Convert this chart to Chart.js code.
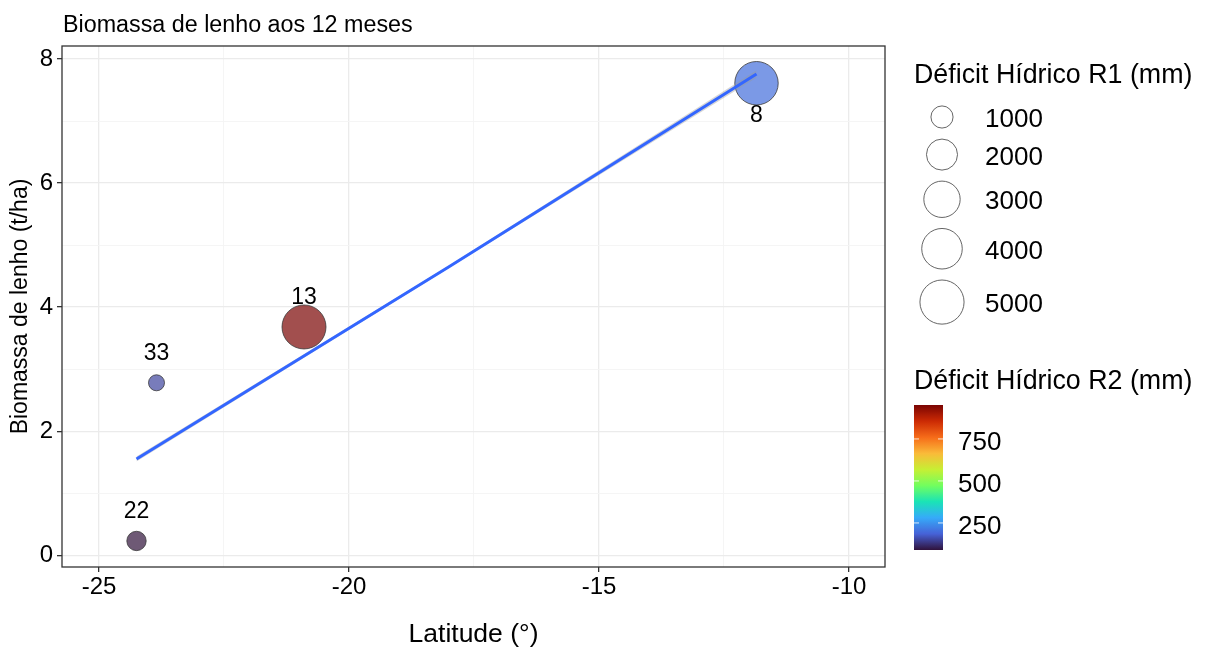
<!DOCTYPE html>
<html>
<head>
<meta charset="utf-8">
<script src="https://cdn.jsdelivr.net/npm/chart.js@4.4.1/dist/chart.umd.min.js"></script>
<style>
  html, body { margin: 0; padding: 0; background: #fff; }
  #wrap { width: 1205px; height: 648px; }
</style>
</head>
<body>
<div id="wrap"><canvas id="chart" width="1205" height="648"></canvas></div>
<script>
// sites (point labels) and their values
const SITE_LABELS = ['22', '33', '13', '8'];
const LATITUDE = [-24.25, -23.85, -20.90, -11.85];
const BIOMASS = [0.23, 2.78, 3.68, 7.61];
const DEFICIT_R1 = [860, 800, 4960, 4790];
const DEFICIT_R2 = [89, 150, 952, 200];

// linear fit (geom_smooth lm) and its band
const FIT_LAT = [-24.25, -18.0, -11.85];
const FIT_Y = [1.55, 4.65, 7.76];
const FIT_LOWER = [1.51, 4.63, 7.70];
const FIT_UPPER = [1.59, 4.67, 7.82];

const R1_BREAKS = [1000, 2000, 3000, 4000, 5000];
const R2_BREAKS = [250, 500, 750];
const R2_LIMITS = [89, 952];

// turbo palette stops (viridisLite::turbo(10))
const TURBO = ['#30123B', '#4662D7', '#36AAF9', '#1AE4B6', '#72FE5E',
               '#C7EF34', '#FABA39', '#F66B19', '#CB2A04', '#7A0403'];

const FAMILY = "'Liberation Sans', Arial, sans-serif";
Chart.defaults.font.family = FAMILY;

function hexRgb(hex) {
    const n = parseInt(hex.slice(1), 16);
    return [(n >> 16) & 255, (n >> 8) & 255, n & 255];
}

function turbo(t) {
    const x = Math.min(1, Math.max(0, t)) * (TURBO.length - 1);
    const i = Math.min(Math.floor(x), TURBO.length - 2);
    const f = x - i;
    const a = hexRgb(TURBO[i]);
    const b = hexRgb(TURBO[i + 1]);
    return a.map((v, k) => Math.round(v + (b[k] - v) * f));
}

function colorFor(value, alpha) {
    const t = (value - R2_LIMITS[0]) / (R2_LIMITS[1] - R2_LIMITS[0]);
    const [r, g, b] = turbo(t);
    return `rgba(${r}, ${g}, ${b}, ${alpha})`;
}

function sizeFor(value) {
    return 8 + 0.217 * Math.sqrt(Math.max(value - 800, 0));
}

const isMajorX = v => Math.abs(v % 5) < 1e-6;
const isMajorY = v => Math.abs(v % 2) < 1e-6;

const decor = {
    id: 'decor',
    beforeDraw(chart) {
        const c = chart.ctx;
        c.save();
        c.fillStyle = '#fff';
        c.fillRect(0, 0, chart.width, chart.height);
        c.restore();
    },
    afterDraw(chart) {
        const c = chart.ctx;
        const area = chart.chartArea;
        const xs = chart.scales.x;
        const ys = chart.scales.y;
        c.save();

        // panel border
        c.strokeStyle = '#333';
        c.lineWidth = 1.3;
        c.strokeRect(area.left, area.top, area.right - area.left, area.bottom - area.top);

        // title
        c.fillStyle = '#000';
        c.font = `23.3px ${FAMILY}`;
        c.textAlign = 'left';
        c.textBaseline = 'alphabetic';
        c.fillText('Biomassa de lenho aos 12 meses', 63, 32);

        // point labels
        c.font = `23px ${FAMILY}`;
        c.textAlign = 'center';
        SITE_LABELS.forEach((label, i) => {
            const nudge = BIOMASS[i] > 7 ? -0.5 : 0.5;
            const px = xs.getPixelForValue(LATITUDE[i]);
            const py = ys.getPixelForValue(BIOMASS[i] + nudge);
            c.fillText(label, px, py + 8);
        });

        // size legend
        c.textAlign = 'left';
        c.font = `26.8px ${FAMILY}`;
        c.fillText('Déficit Hídrico R1 (mm)', 914, 83);
        c.font = `26px ${FAMILY}`;
        let y = 117;
        let prevH = 0;
        R1_BREAKS.forEach((v, i) => {
            const r = sizeFor(v);
            const h = 2 * r + 11;
            if (i > 0) y += (prevH + h) / 2;
            c.beginPath();
            c.arc(942, y, r, 0, Math.PI * 2);
            c.strokeStyle = '#555';
            c.lineWidth = 0.9;
            c.stroke();
            c.fillStyle = '#000';
            c.fillText(String(v), 985, y + 10);
            prevH = h;
        });

        // colour bar legend
        c.font = `26.8px ${FAMILY}`;
        c.fillText('Déficit Hídrico R2 (mm)', 914, 389);
        c.font = `26px ${FAMILY}`;
        const barTop = 405, barBottom = 550, barLeft = 914, barRight = 943;
        const grad = c.createLinearGradient(0, barBottom, 0, barTop);
        for (let k = 0; k <= 45; k++) {
            const [r, g, b] = turbo(k / 45);
            grad.addColorStop(k / 45, `rgb(${r}, ${g}, ${b})`);
        }
        c.fillStyle = grad;
        c.fillRect(barLeft, barTop, barRight - barLeft, barBottom - barTop);
        R2_BREAKS.forEach(v => {
            const t = (v - R2_LIMITS[0]) / (R2_LIMITS[1] - R2_LIMITS[0]);
            const ty = barBottom - t * (barBottom - barTop);
            c.strokeStyle = 'rgba(255,255,255,0.8)';
            c.lineWidth = 1;
            c.beginPath();
            c.moveTo(barLeft, ty); c.lineTo(barLeft + 5, ty);
            c.moveTo(barRight - 5, ty); c.lineTo(barRight, ty);
            c.stroke();
            c.fillStyle = '#000';
            c.fillText(String(v), 958, ty + 11);
        });
        c.restore();
    }
};

const points = LATITUDE.map((x, i) => ({ x, y: BIOMASS[i], r: sizeFor(DEFICIT_R1[i]) }));

new Chart(document.getElementById('chart'), {
    type: 'scatter',
    data: {
        datasets: [
            {
                type: 'line',
                data: FIT_LAT.map((x, i) => ({ x, y: FIT_UPPER[i] })),
                borderWidth: 0,
                pointRadius: 0,
                backgroundColor: 'rgba(153, 153, 153, 0.4)',
                fill: '+1',
                order: 2
            },
            {
                type: 'line',
                data: FIT_LAT.map((x, i) => ({ x, y: FIT_LOWER[i] })),
                borderWidth: 0,
                pointRadius: 0,
                fill: false,
                order: 2
            },
            {
                type: 'line',
                data: FIT_LAT.map((x, i) => ({ x, y: FIT_Y[i] })),
                borderColor: '#3366ff',
                borderWidth: 3,
                pointRadius: 0,
                fill: false,
                order: 1
            },
            {
                type: 'bubble',
                data: points,
                backgroundColor: DEFICIT_R2.map(v => colorFor(v, 0.7)),
                borderColor: '#3a3a3a',
                borderWidth: 0.8,
                order: 3
            }
        ]
    },
    options: {
        responsive: false,
        animation: false,
        layout: { padding: { top: 46, right: 320, left: 0, bottom: 0 } },
        plugins: {
            legend: { display: false },
            tooltip: { enabled: false },
            title: { display: false }
        },
        scales: {
            x: {
                type: 'linear',
                min: -25.74,
                max: -9.28,
                afterFit(scale) { scale.height = 81; },
                border: { display: false },
                grid: {
                    color: c => isMajorX(c.tick.value) ? '#ebebeb' : '#f4f4f4',
                    lineWidth: c => isMajorX(c.tick.value) ? 1.3 : 0.9,
                    tickColor: c => isMajorX(c.tick.value) ? '#333' : 'rgba(0,0,0,0)',
                    tickLength: 5
                },
                ticks: {
                    stepSize: 2.5,
                    autoSkip: false,
                    includeBounds: false,
                    maxRotation: 0,
                    padding: 1,
                    color: '#000',
                    font: { size: 24 },
                    callback: v => isMajorX(v) ? String(v) : ''
                },
                title: {
                    display: true,
                    text: 'Latitude (°)',
                    color: '#000',
                    font: { size: 26.5, lineHeight: 1.0 },
                    padding: { top: 0, bottom: 0 }
                }
            },
            y: {
                type: 'linear',
                min: -0.19,
                max: 8.21,
                afterFit(scale) { scale.width = 62; },
                border: { display: false },
                grid: {
                    color: c => isMajorY(c.tick.value) ? '#ebebeb' : '#f4f4f4',
                    lineWidth: c => isMajorY(c.tick.value) ? 1.3 : 0.9,
                    tickColor: c => isMajorY(c.tick.value) ? '#333' : 'rgba(0,0,0,0)',
                    tickLength: 5
                },
                ticks: {
                    stepSize: 1,
                    autoSkip: false,
                    includeBounds: false,
                    padding: 4,
                    color: '#000',
                    font: { size: 24 },
                    callback: v => isMajorY(v) ? String(v) : ''
                },
                title: {
                    display: true,
                    text: 'Biomassa de lenho (t/ha)',
                    color: '#000',
                    font: { size: 23, lineHeight: 1.0 },
                    padding: { top: 9, bottom: 0 }
                }
            }
        }
    },
    plugins: [decor]
});
</script>
</body>
</html>
